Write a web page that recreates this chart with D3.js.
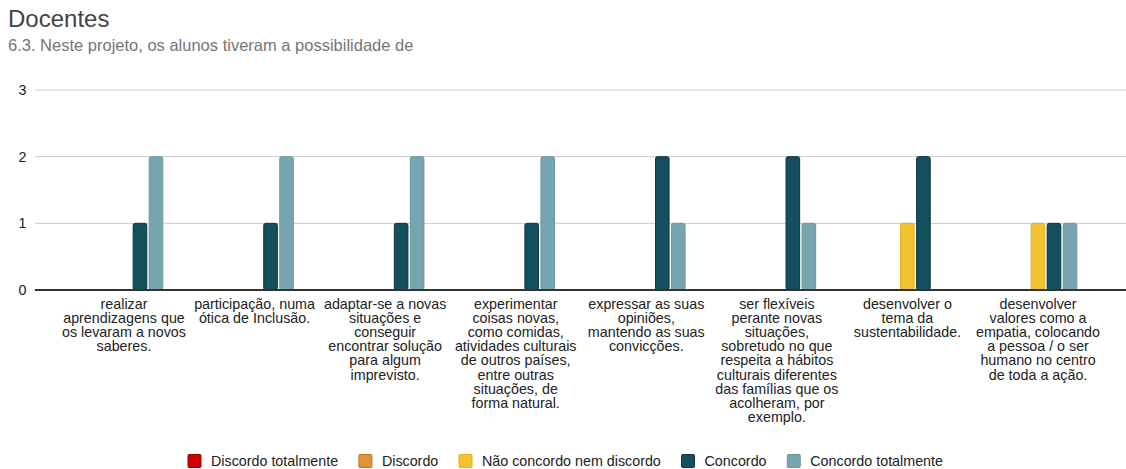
<!DOCTYPE html>
<html>
<head>
<meta charset="utf-8">
<script src="https://cdn.jsdelivr.net/npm/d3@7"></script>
<style>
  body { margin: 0; background: #fff; }
  svg { display: block; font-family: "Liberation Sans", Arial, sans-serif; }
</style>
</head>
<body>
<div id="chart"></div>
<script>
var title = "Docentes";
var subtitle = "6.3. Neste projeto, os alunos tiveram a possibilidade de";

var categories = [
  "realizar\naprendizagens que\nos levaram a novos\nsaberes.",
  "participação, numa\nótica de Inclusão.",
  "adaptar-se a novas\nsituações e\nconseguir\nencontrar solução\npara algum\nimprevisto.",
  "experimentar\ncoisas novas,\ncomo comidas,\natividades culturais\nde outros países,\nentre outras\nsituações, de\nforma natural.",
  "expressar as suas\nopiniões,\nmantendo as suas\nconvicções.",
  "ser flexíveis\nperante novas\nsituações,\nsobretudo no que\nrespeita a hábitos\nculturais diferentes\ndas famílias que os\nacolheram, por\nexemplo.",
  "desenvolver o\ntema da\nsustentabilidade.",
  "desenvolver\nvalores como a\nempatia, colocando\na pessoa / o ser\nhumano no centro\nde toda a ação."
];

var seriesNames = ["Discordo totalmente", "Discordo", "Não concordo nem discordo", "Concordo", "Concordo totalmente"];
var seriesColors = ["#cc0000", "#e69138", "#f1c232", "#134f5c", "#76a5af"];
var seriesStroke = ["#a30000", "#b8742d", "#e0b020", "#0a3640", "#6a98a2"];

var discordoTotalmente = [0, 0, 0, 0, 0, 0, 0, 0];
var discordo = [0, 0, 0, 0, 0, 0, 0, 0];
var neutro = [0, 0, 0, 0, 0, 0, 1, 1];
var concordo = [1, 1, 1, 1, 2, 2, 2, 1];
var concordoTotalmente = [2, 2, 2, 2, 1, 1, 0, 1];

var yTicks = [0, 1, 2, 3];

var seriesValues = [discordoTotalmente, discordo, neutro, concordo, concordoTotalmente];

var W = 1126, H = 469;
var fs = 14.3;
var svg = d3.select("#chart").append("svg").attr("width", W).attr("height", H);

svg.append("text").attr("x", 8).attr("y", 27)
  .attr("font-size", 24).attr("fill", "#444").text(title);
svg.append("text").attr("x", 8).attr("y", 51)
  .attr("font-size", 16.5).attr("fill", "#757575").text(subtitle);

var y = d3.scaleLinear().domain([0, 3]).range([290, 90]);
var x0 = d3.scaleBand().domain(d3.range(categories.length)).range([58.7, 1103.3]).paddingInner(0).paddingOuter(0);
var x1 = d3.scaleBand().domain(d3.range(seriesNames.length)).range([24, 106.5]).padding(0.15);

// grid
var grid = svg.append("g");
grid.selectAll("line").data(yTicks.filter(function(d){ return d > 0; })).enter()
  .append("line")
  .attr("x1", 35).attr("x2", W)
  .attr("y1", function(d){ return y(d); }).attr("y2", function(d){ return y(d); })
  .attr("stroke", "#ccc").attr("stroke-width", 1);

svg.append("g").selectAll("text").data(yTicks).enter()
  .append("text")
  .attr("x", 26.5).attr("y", function(d){ return y(d) + 5; })
  .attr("text-anchor", "end").attr("font-size", fs).attr("fill", "#222")
  .text(function(d){ return d; });

// bars
var groups = svg.append("g").selectAll("g").data(categories).enter()
  .append("g")
  .attr("transform", function(d, i){ return "translate(" + x0(i) + ",0)"; });

groups.selectAll("rect")
  .data(function(d, i){
    return seriesValues.map(function(s, j){ return {s: j, v: s[i]}; }).filter(function(e){ return e.v > 0; });
  })
  .enter().append("rect")
  .attr("x", function(d){ return x1(d.s); })
  .attr("width", x1.bandwidth())
  .attr("y", function(d){ return y(d.v); })
  .attr("height", function(d){ return y(0) - y(d.v); })
  .attr("rx", 2)
  .attr("fill", function(d){ return seriesColors[d.s]; })
  .attr("stroke", function(d){ return seriesStroke[d.s]; })
  .attr("stroke-width", 1);

// zero line
svg.append("line").attr("x1", 35).attr("x2", W)
  .attr("y1", y(0)).attr("y2", y(0))
  .attr("stroke", "#333").attr("stroke-width", 2);

// category labels
var labels = svg.append("g").selectAll("text").data(categories).enter()
  .append("text")
  .attr("text-anchor", "middle").attr("font-size", fs).attr("fill", "#222")
  .attr("transform", function(d, i){ return "translate(" + (x0(i) + x0.bandwidth() / 2) + ",309)"; });
labels.selectAll("tspan").data(function(d){ return d.split("\n"); }).enter()
  .append("tspan").attr("x", 0).attr("dy", function(d, i){ return i === 0 ? 0 : 14.1; })
  .text(function(d){ return d; });

// legend: spread between 188 and 943
var legend = svg.append("g").attr("transform", "translate(0,461)");
var items = legend.selectAll("g").data(seriesNames).enter().append("g");
items.append("rect").attr("width", 13).attr("height", 13).attr("y", -6.5).attr("rx", 1)
  .attr("fill", function(d, i){ return seriesColors[i]; })
  .attr("stroke", function(d, i){ return seriesStroke[i]; });
items.append("text").attr("x", 23).attr("y", 5).attr("font-size", fs).attr("fill", "#222")
  .text(function(d){ return d; });
var widths = [];
items.each(function(){ widths.push(23 + d3.select(this).select("text").node().getComputedTextLength()); });
var gap = (943 - 188 - d3.sum(widths)) / (widths.length - 1);
var lx = 188;
items.each(function(d, i){
  d3.select(this).attr("transform", "translate(" + lx + ",0)");
  lx += widths[i] + gap;
});
</script>
</body>
</html>
